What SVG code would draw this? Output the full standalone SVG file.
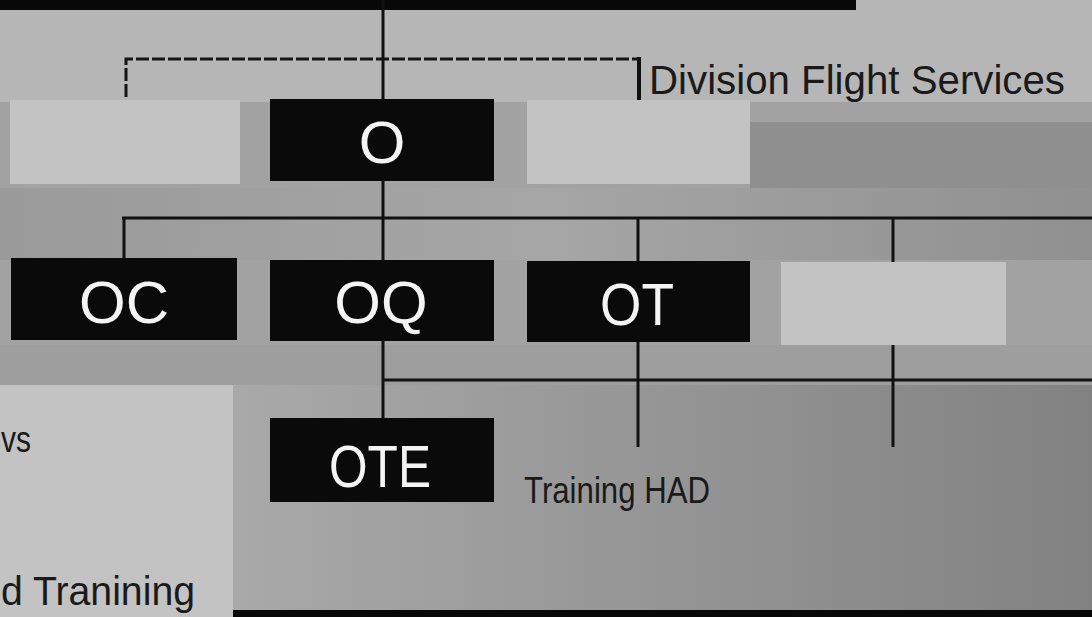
<svg xmlns="http://www.w3.org/2000/svg" width="1092" height="617" viewBox="0 0 1092 617">
<style>
.blk{fill:#0a0a0a}
.lite{fill:#c3c3c3}
.lbl{font-family:"Liberation Sans",Arial,sans-serif;font-size:60px;fill:#f4f4f4;text-anchor:middle}
.txt{font-family:"Liberation Sans",Arial,sans-serif;fill:#1a1a1a}
.ln{stroke:#111;stroke-width:3;fill:none}
.dash{stroke:#151515;stroke-width:3;fill:none;stroke-dasharray:13 3}
</style>
<defs>
<linearGradient id="gBot" x1="0" y1="0" x2="1" y2="0">
<stop offset="0" stop-color="#a9a9a9"/>
<stop offset="0.45" stop-color="#979797"/>
<stop offset="1" stop-color="#828282"/>
</linearGradient>
<linearGradient id="gMid" x1="0" y1="0" x2="1" y2="0">
<stop offset="0" stop-color="#9a9a9a"/>
<stop offset="0.5" stop-color="#a6a6a6"/>
<stop offset="1" stop-color="#909090"/>
</linearGradient>
</defs>
<g id="background">
<rect x="0" y="0" width="1092" height="617" fill="#a2a2a2"/>
<rect x="0" y="0" width="1092" height="102" fill="#b6b6b6"/>
<rect x="750" y="122" width="342" height="68" fill="#8f8f8f"/>
<rect x="0" y="188" width="1092" height="72" fill="url(#gMid)"/>
<rect x="0" y="345" width="1092" height="40" fill="#9e9e9e"/>
<rect x="233" y="385" width="859" height="232" fill="url(#gBot)"/>
<rect x="0" y="0" width="856" height="10" fill="#080808"/>
<rect x="233" y="610" width="859" height="7" fill="#080808"/>
</g>
<g id="connectors">
<line class="ln" x1="383" y1="0" x2="383" y2="418"/>
<polyline class="dash" points="126,97 126,59 638,59"/>
<line x1="639" y1="57" x2="639" y2="100" stroke="#111" stroke-width="4"/>
<line class="ln" x1="122" y1="218" x2="1092" y2="218"/>
<line class="ln" x1="124" y1="218" x2="124" y2="258"/>
<line class="ln" x1="638" y1="218" x2="638" y2="447"/>
<line class="ln" x1="893" y1="218" x2="893" y2="262"/>
<line class="ln" x1="383" y1="380" x2="1092" y2="380"/>
<line class="ln" x1="893" y1="345" x2="893" y2="447"/>
</g>
<g id="node-left-top"><rect class="lite" x="10" y="100" width="230" height="84"/></g>
<g id="node-O"><rect class="blk" x="270" y="99" width="224" height="82"/><text class="lbl" x="382" y="163">O</text></g>
<g id="node-right-top"><rect class="lite" x="527" y="100" width="223" height="84"/></g>
<g id="node-OC"><rect class="blk" x="11" y="258" width="226" height="82"/><text class="lbl" x="124" y="323">OC</text></g>
<g id="node-OQ"><rect class="blk" x="270" y="260" width="224" height="81"/><text class="lbl" x="381" y="323">OQ</text></g>
<g id="node-OT"><rect class="blk" x="527" y="261" width="223" height="81"/><text class="lbl" x="637" y="325" textLength="74" lengthAdjust="spacingAndGlyphs">OT</text></g>
<g id="node-blank"><rect class="lite" x="781" y="262" width="225" height="83"/></g>
<g id="node-OTE"><rect class="blk" x="270" y="418" width="224" height="84"/><text class="lbl" x="380" y="487" textLength="102" lengthAdjust="spacingAndGlyphs">OTE</text></g>
<g id="node-left-bottom"><rect class="lite" x="0" y="385" width="233" height="232"/>
<text class="txt" x="1" y="452" font-size="36" textLength="30" lengthAdjust="spacingAndGlyphs">vs</text>
<text class="txt" x="1" y="605" font-size="40" textLength="194" lengthAdjust="spacingAndGlyphs">d Tranining</text></g>
<g id="labels">
<text class="txt" x="649" y="94" font-size="40" textLength="416" lengthAdjust="spacingAndGlyphs">Division Flight Services</text>
<text class="txt" x="524" y="503" font-size="37" textLength="186" lengthAdjust="spacingAndGlyphs">Training HAD</text>
</g>
</svg>
